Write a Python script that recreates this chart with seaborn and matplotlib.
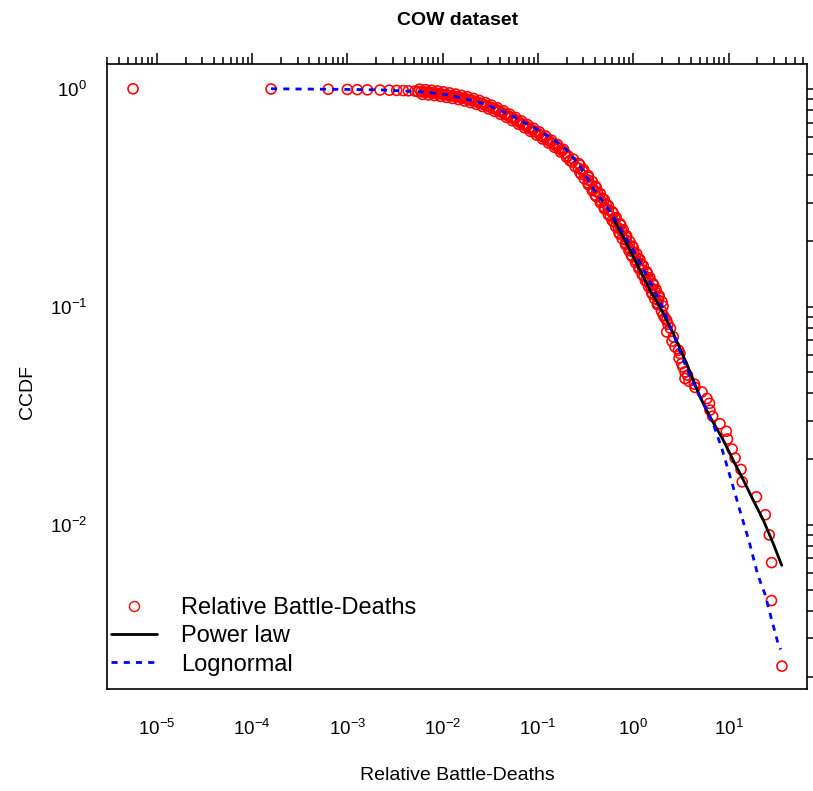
import numpy as np
import pandas as pd
import matplotlib
matplotlib.use("Agg")
import matplotlib.pyplot as plt
import seaborn as sns
from matplotlib.lines import Line2D
from matplotlib.ticker import FixedLocator, LogFormatterMathtext, NullFormatter

# ---- CCDF points (relative battle-deaths, COW) ----
head_x = [5.63e-6, 1.58e-4, 6.30e-4, 9.98e-4, 1.27e-3, 1.62e-3, 2.20e-3,
          2.75e-3, 3.29e-3, 3.86e-3, 4.36e-3, 5.12e-3]
head_y = [1.0, 0.998, 0.995, 0.993, 0.991, 0.989, 0.987,
          0.985, 0.983, 0.981, 0.979, 0.976]

# flat shoulder of the curve (centre of the red band)
body1_x = [0.00551, 0.00592, 0.00637, 0.00684, 0.00736, 0.00791, 0.00851, 0.00915,
           0.00983, 0.01057, 0.01137, 0.01222, 0.01314, 0.01413, 0.01519, 0.01633,
           0.01756, 0.01888, 0.0203, 0.02182, 0.02346, 0.02523, 0.02713, 0.02917,
           0.03135, 0.03372, 0.03625, 0.03898, 0.0419, 0.04506, 0.04844, 0.05208,
           0.05601, 0.06021, 0.06474, 0.06961, 0.07483, 0.08047, 0.0865, 0.09301,
           0.1, 0.1075, 0.1156, 0.1243, 0.1336, 0.1437, 0.1545, 0.1661, 0.1786,
           0.192, 0.2064]
body1_y = [0.9707, 0.9686, 0.9664, 0.9637, 0.9606, 0.9576, 0.9541, 0.9495,
           0.945, 0.9405, 0.9352, 0.9299, 0.9245, 0.9186, 0.9121, 0.9058,
           0.899, 0.891, 0.8831, 0.8753, 0.8656, 0.856, 0.8466, 0.836,
           0.825, 0.8141, 0.8027, 0.79, 0.7776, 0.7654, 0.7522, 0.7392,
           0.7264, 0.7131, 0.6997, 0.6865, 0.6736, 0.6609, 0.6484, 0.6362,
           0.6232, 0.6105, 0.598, 0.5852, 0.5723, 0.5597, 0.5468, 0.5331, 0.5198,
           0.5068, 0.4917]

# flat shoulder, points on the upper / lower edge of the band
body1_edge_x = [0.005713, 0.006138, 0.006605, 0.007092, 0.007632, 0.008202, 0.008824,
                0.009488, 0.010193, 0.01096, 0.01179, 0.01267, 0.01362, 0.01465,
                0.01575, 0.01693, 0.01821, 0.01958, 0.02105, 0.02263, 0.02433,
                0.02616, 0.02813, 0.03025, 0.03251, 0.03496, 0.03759, 0.04042,
                0.04345, 0.04672, 0.05023, 0.054, 0.05808, 0.06243, 0.06713,
                0.07218, 0.07759, 0.08344, 0.08969, 0.09644, 0.1037, 0.1115,
                0.1199, 0.1289, 0.1385, 0.149, 0.1602, 0.1722, 0.1852, 0.1991]
body1_edge_y = [0.9956, 0.9422, 0.9909, 0.937, 0.9848, 0.9309, 0.9773, 0.9225,
                0.968, 0.9134, 0.9575, 0.903, 0.9462, 0.8915, 0.9333, 0.8789,
                0.919, 0.8639, 0.9028, 0.8477, 0.8839, 0.8291, 0.8638, 0.8088,
                0.8415, 0.7873, 0.8177, 0.7633, 0.7922, 0.739, 0.7657, 0.7137,
                0.739, 0.688, 0.7117, 0.6623, 0.6851, 0.6376, 0.6595, 0.6133,
                0.6334, 0.5885, 0.6075, 0.5636, 0.5812, 0.5388, 0.5544, 0.5127,
                0.5271, 0.4862]

# steep part of the curve
body2_x = [0.2346, 0.2301, 0.2759, 0.2654, 0.2952, 0.284, 0.3372, 0.3372, 0.3372, 0.3993,
           0.3804, 0.4191, 0.3993, 0.4728, 0.4615, 0.5208, 0.4961, 0.5466, 0.6168, 0.5738,
           0.6474, 0.6288, 0.7393, 0.6976, 0.763, 0.7215, 0.8464, 0.8402, 0.8342, 0.9786,
           0.9256, 1.012, 0.9552, 1.123, 1.088, 1.216, 1.151, 1.258, 1.406, 1.298,
           1.447, 1.399, 1.641, 1.549, 1.685, 1.59, 1.856, 1.829, 1.803, 2.055]
body2_y = [0.4756, 0.4608, 0.4464, 0.4324, 0.4189, 0.4058, 0.3932, 0.3809, 0.369, 0.3575,
           0.3463, 0.3355, 0.325, 0.3149, 0.305, 0.2955, 0.2863, 0.2773, 0.2687, 0.2603,
           0.2522, 0.2443, 0.2367, 0.2293, 0.2221, 0.2152, 0.2085, 0.202, 0.1957, 0.1896,
           0.1836, 0.1779, 0.1723, 0.1669, 0.1617, 0.1567, 0.1518, 0.147, 0.1424, 0.138,
           0.1337, 0.1295, 0.1255, 0.1216, 0.1178, 0.1141, 0.1105, 0.1071, 0.1037, 0.1005]

# steep part, points on the left / right edge of the band
body2_edge_x = [0.2162, 0.2677, 0.2456, 0.3009, 0.2759, 0.3368, 0.306, 0.3713, 0.3372,
                0.409, 0.3713, 0.4505, 0.409, 0.4961, 0.4505, 0.5466, 0.4961, 0.6022,
                0.5466, 0.6634, 0.6008, 0.7244, 0.6523, 0.7843, 0.7071, 0.8505, 0.7656,
                0.9223, 0.8302, 0.9988, 0.9001, 1.083, 0.975, 1.174, 1.057, 1.272,
                1.146, 1.379, 1.241, 1.492, 1.34, 1.609, 1.447, 1.737, 1.56, 1.87,
                1.673, 2.001, 1.79]
body2_edge_y = [0.4681, 0.4536, 0.4394, 0.4256, 0.4123, 0.3994, 0.387, 0.3749, 0.3632,
                0.3519, 0.3409, 0.3302, 0.3199, 0.3099, 0.3002, 0.2909, 0.2818, 0.2729,
                0.2645, 0.2562, 0.2482, 0.2405, 0.233, 0.2257, 0.2186, 0.2118, 0.2052,
                0.1988, 0.1926, 0.1866, 0.1807, 0.1751, 0.1696, 0.1643, 0.1592, 0.1542,
                0.1494, 0.1447, 0.1402, 0.1358, 0.1316, 0.1275, 0.1235, 0.1197, 0.1159,
                0.1123, 0.1088, 0.1054, 0.1021]

tail_x = [1.976, 2.064, 2.151, 2.241, 2.313, 2.457, 2.241, 2.629, 2.547, 2.739,
          2.981, 3.09, 3.017, 3.221, 3.323, 3.487, 3.705, 3.487, 3.841, 4.387,
          4.44, 5.26, 5.933, 6.30, 6.38, 6.81, 8.12, 9.46, 9.74, 10.9,
          11.7, 13.5, 13.9, 19.6, 24.3, 26.7, 28.3, 28.2, 36.3]
tail_y = [0.0954, 0.0914, 0.0886, 0.0867, 0.0831, 0.0796, 0.0766, 0.0727, 0.0694, 0.0654,
          0.0631, 0.061, 0.058, 0.0548, 0.0528, 0.0502, 0.0485, 0.0468, 0.0455, 0.0441,
          0.0426, 0.0406, 0.0379, 0.036, 0.0335, 0.0314, 0.029, 0.0268, 0.0247, 0.0222,
          0.0202, 0.0179, 0.0157, 0.0134, 0.0111, 0.00896, 0.00669, 0.00448, 0.00224]

# ---- fitted curves ----
pl_x = [0.617, 0.785, 1.086, 1.497, 1.906, 2.63, 3.63, 5.01, 6.38, 8.80,
        11.2, 14.3, 18.2, 23.1, 29.4, 36.1]
pl_y = [0.254, 0.209, 0.158, 0.119, 0.0998, 0.0753, 0.0548, 0.0385, 0.0312, 0.0244,
        0.0197, 0.0160, 0.0129, 0.0105, 0.00818, 0.0065]

ln_x = [1.58e-4, 6.57e-4, 2.20e-3, 6.21e-3, 0.01193, 0.01934, 0.02648, 0.0354, 0.0508,
        0.0696, 0.0930, 0.1243, 0.1582, 0.2015, 0.276, 0.3777, 0.530, 0.674, 0.859,
        1.093, 1.392, 1.906, 2.61, 3.66, 5.01, 6.86, 8.53, 10.6, 13.5, 16.4, 20.3,
        24.1, 27.9, 33.0, 35.2]
ln_y = [1.0, 0.995, 0.989, 0.968, 0.936, 0.887, 0.855, 0.813, 0.761,
        0.706, 0.660, 0.610, 0.569, 0.523, 0.442, 0.350, 0.286, 0.244, 0.202,
        0.169, 0.138, 0.106, 0.0755, 0.0516, 0.0388, 0.0292, 0.0222, 0.0161, 0.01115,
        0.00838, 0.00585, 0.00479, 0.00375, 0.00285, 0.00267]

labels = ["Relative Battle-Deaths", "Power law", "Lognormal"]

# axis ranges and decade ticks
x_range = (3.0e-6, 67)
y_range = (1.754e-3, 1.306)
x_decades = [1e-5, 1e-4, 1e-3, 1e-2, 1e-1, 1e0, 1e1]
y_decades = [1e-2, 1e-1, 1e0]

points = pd.DataFrame({
    "x": head_x + body1_x + body1_edge_x + body2_x + body2_edge_x + tail_x,
    "y": head_y + body1_y + body1_edge_y + body2_y + body2_edge_y + tail_y,
})

sns.set_theme(style="white")
plt.rcParams["font.family"] = ["Liberation Sans", "DejaVu Sans"]
plt.rcParams["mathtext.fontset"] = "custom"
plt.rcParams["mathtext.rm"] = "Liberation Sans"
plt.rcParams["mathtext.it"] = "Liberation Sans:italic"
plt.rcParams["mathtext.bf"] = "Liberation Sans:bold"
plt.rcParams["text.color"] = "black"
plt.rcParams["axes.labelcolor"] = "black"

fig = plt.figure(figsize=(8.13, 7.91), dpi=100)
ax = fig.add_axes([0.1316, 0.1286, 0.8614, 0.7911])
ax.set(xscale="log", yscale="log")

sns.scatterplot(data=points, x="x", y="y", ax=ax, marker="o", s=52,
                facecolors="none", edgecolor="red", linewidth=1.15, zorder=3)
sns.lineplot(x=pl_x, y=pl_y, sort=False, estimator=None, color="black",
             lw=2.0, ax=ax, zorder=4)
sns.lineplot(x=ln_x, y=ln_y, sort=False, estimator=None, color="blue",
             lw=2.0, linestyle=(0, (2.2, 2.2)), ax=ax, zorder=5)
ax.collections[0].set_facecolor("none")
ax.collections[0].set_edgecolor("red")

ax.set_xlim(*x_range)
ax.set_ylim(*y_range)


def minor_ticks(lo, hi):
    vals = [m * 10.0 ** e for e in range(-7, 3) for m in range(2, 10)]
    return [v for v in vals if lo <= v <= hi]


ax.xaxis.set_major_locator(FixedLocator(x_decades))
ax.yaxis.set_major_locator(FixedLocator(y_decades))
ax.xaxis.set_minor_locator(FixedLocator(minor_ticks(*x_range)))
ax.yaxis.set_minor_locator(FixedLocator(minor_ticks(*y_range)))
for axis in (ax.xaxis, ax.yaxis):
    axis.set_major_formatter(LogFormatterMathtext())
    axis.set_minor_formatter(NullFormatter())

ax.tick_params(which="both", direction="out", top=True, right=True,
               labeltop=False, labelright=False, color="black", width=1.1)
ax.tick_params(which="major", length=8.2, labelsize=13.5, labelcolor="black")
ax.tick_params(axis="x", which="major", pad=13)
ax.tick_params(axis="y", which="major", pad=6)
ax.tick_params(which="minor", length=5.2)
for sp in ax.spines.values():
    sp.set_color("black")
    sp.set_linewidth(1.2)
ax.grid(False)

ax.set_title("COW dataset", fontsize=14, fontweight="bold", color="black",
             y=1.069, va="center", pad=0)
ax.set_xlabel("Relative Battle-Deaths", fontsize=14, va="center")
ax.xaxis.set_label_coords(0.5, -0.1385)
ax.set_ylabel("CCDF", fontsize=14, va="center")
ax.yaxis.set_label_coords(-0.114, 0.475)

handles = [
    Line2D([], [], marker="o", ls="none", mfc="none", mec="red", ms=7.2, mew=1.0),
    Line2D([], [], color="black", lw=2.0),
    Line2D([], [], color="blue", lw=2.0, ls=(0, (2.2, 2.2))),
]
ax.legend(handles, labels, loc="lower left", bbox_to_anchor=(0.006, 0.022),
          frameon=False, fontsize=17, handlelength=1.95, handletextpad=1.0,
          labelspacing=0.26, borderpad=0, borderaxespad=0)

fig.savefig("out.png", dpi=100)
